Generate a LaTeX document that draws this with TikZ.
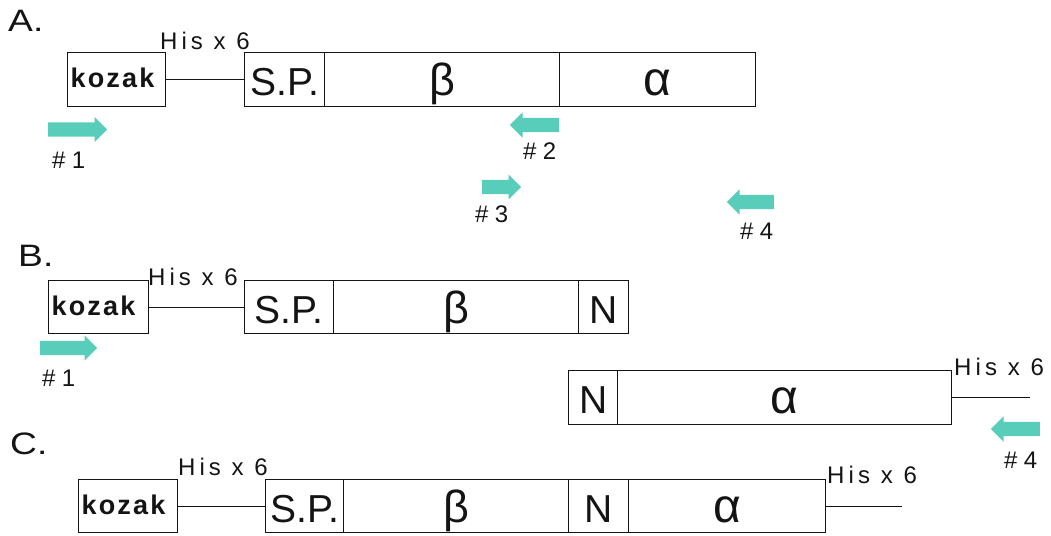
\documentclass[tikz,border=0pt]{standalone}
\usepackage{fontspec}
\setmainfont{Liberation Sans}
\newfontfamily\spacedfont[LetterSpace=17]{Liberation Sans}
\newfontfamily\widefont[LetterSpace=26]{Liberation Sans}
\newfontfamily\kozakfont[LetterSpace=8]{Liberation Sans}
\newfontfamily\panelfont[FakeStretch=1.2]{Liberation Sans}
\usetikzlibrary{shapes.arrows}

\definecolor{primer}{RGB}{88,205,185}
\definecolor{ink}{RGB}{20,20,20}

\tikzset{
  x=1pt, y=-1pt,
  seg/.style={draw=ink, line width=1.3pt, rectangle, inner sep=0pt,
    minimum height=54pt, anchor=north west, text=ink,
    text height=32pt, text depth=0pt,
    font=\fontsize{39}{39}\selectfont},
  greekb/.style={seg, font=\fontsize{45}{45}\selectfont},
  greeka/.style={seg, font=\fontsize{48}{48}\selectfont},
  kozakbox/.style={seg, text height=16pt, align=left,
    font=\kozakfont\fontsize{27}{27}\selectfont\bfseries},
  link/.style={draw=ink, line width=1.3pt},
  tag/.style={anchor=base west, inner sep=0pt, text=ink,
    font=\spacedfont\fontsize{24}{24}\selectfont},
  primerno/.style={anchor=base west, inner sep=0pt, text=ink,
    font=\widefont\fontsize{24}{24}\selectfont},
  panel/.style={anchor=base west, inner sep=0pt, text=ink,
    font=\panelfont\fontsize{31}{31}\selectfont},
  primerarrow/.style={single arrow, fill=primer, draw=none,
    inner xsep=0pt, inner ysep=7pt, single arrow head extend=5.5pt,
    anchor=tail},
  fwd/.style={primerarrow, shape border rotate=0},
  rev/.style={primerarrow, shape border rotate=180}
}

\begin{document}
\begin{tikzpicture}
\path[use as bounding box] (0,0) rectangle (1051,535);

% ---------- A: full construct ----------
\node[panel] (labA) at (8,32) {A.};
\node[kozakbox, minimum width=98pt, text width=92pt] (kozA) at (67,52) {kozak};
\node[seg, minimum width=80pt] (spA) at (244,52) {S.P.};
\node[greekb, minimum width=235pt] (beA) at (324,52) {β};
\node[greeka, minimum width=196pt] (alA) at (559,52) {α};
\draw[link] (kozA.east) -- (spA.west);
\node[tag] (hisA) at (160,49) {His x 6};

\node[fwd, minimum height=59pt] (p1A) at (48,129.5) {};
\node[primerno] (n1A) at (52,168) {\#1};
\node[rev, minimum height=49pt] (p2A) at (559,125) {};
\node[primerno] (n2A) at (523,159) {\#2};
\node[fwd, minimum height=39pt] (p3A) at (482,187) {};
\node[primerno] (n3A) at (475,222) {\#3};
\node[rev, minimum height=47pt] (p4A) at (774,202) {};
\node[primerno] (n4A) at (740,239) {\#4};

% ---------- B: split halves ----------
\node[panel] (labB) at (18,266) {B.};
\node[kozakbox, minimum width=100pt, text width=94pt, minimum height=53pt] (kozB) at (48,280) {kozak};
\node[seg, minimum width=89pt, minimum height=53pt] (spB) at (244,280) {S.P.};
\node[greekb, minimum width=245pt, minimum height=53pt] (beB) at (333,280) {β};
\node[seg, minimum width=50pt, minimum height=53pt] (nB) at (578,280) {N};
\draw[link] (kozB.east) -- (spB.west);
\node[tag] (hisB) at (148,285) {His x 6};

\node[fwd, minimum height=57pt] (p1B) at (40,348) {};
\node[primerno] (n1B) at (42,386) {\#1};

\node[seg, minimum width=49pt] (nB2) at (568,370) {N};
\node[greeka, minimum width=334pt] (alB2) at (617,370) {α};
\coordinate (tailB) at (1030,397);
\draw[link] (alB2.east) -- (alB2.east -| tailB);
\node[tag] (hisB2) at (954,375) {His x 6};

\node[rev, minimum height=49pt] (p4B) at (1040,429) {};
\node[primerno] (n4B) at (1004,468) {\#4};

% ---------- C: fused construct ----------
\node[panel] (labC) at (10,454) {C.};
\node[kozakbox, minimum width=99pt, text width=93pt, minimum height=53pt] (kozC) at (78,479) {kozak};
\node[seg, minimum width=78pt, minimum height=53pt] (spC) at (265,479) {S.P.};
\node[greekb, minimum width=225pt, minimum height=53pt] (beC) at (343,479) {β};
\node[seg, minimum width=60pt, minimum height=53pt] (nC) at (568,479) {N};
\node[greeka, minimum width=197pt, minimum height=53pt] (alC) at (628,479) {α};
\coordinate (tailC) at (902,505);
\draw[link] (kozC.east) -- (spC.west);
\draw[link] (alC.east) -- (alC.east -| tailC);
\node[tag] (hisC1) at (178,475) {His x 6};
\node[tag] (hisC2) at (827,483) {His x 6};
\end{tikzpicture}
\end{document}
